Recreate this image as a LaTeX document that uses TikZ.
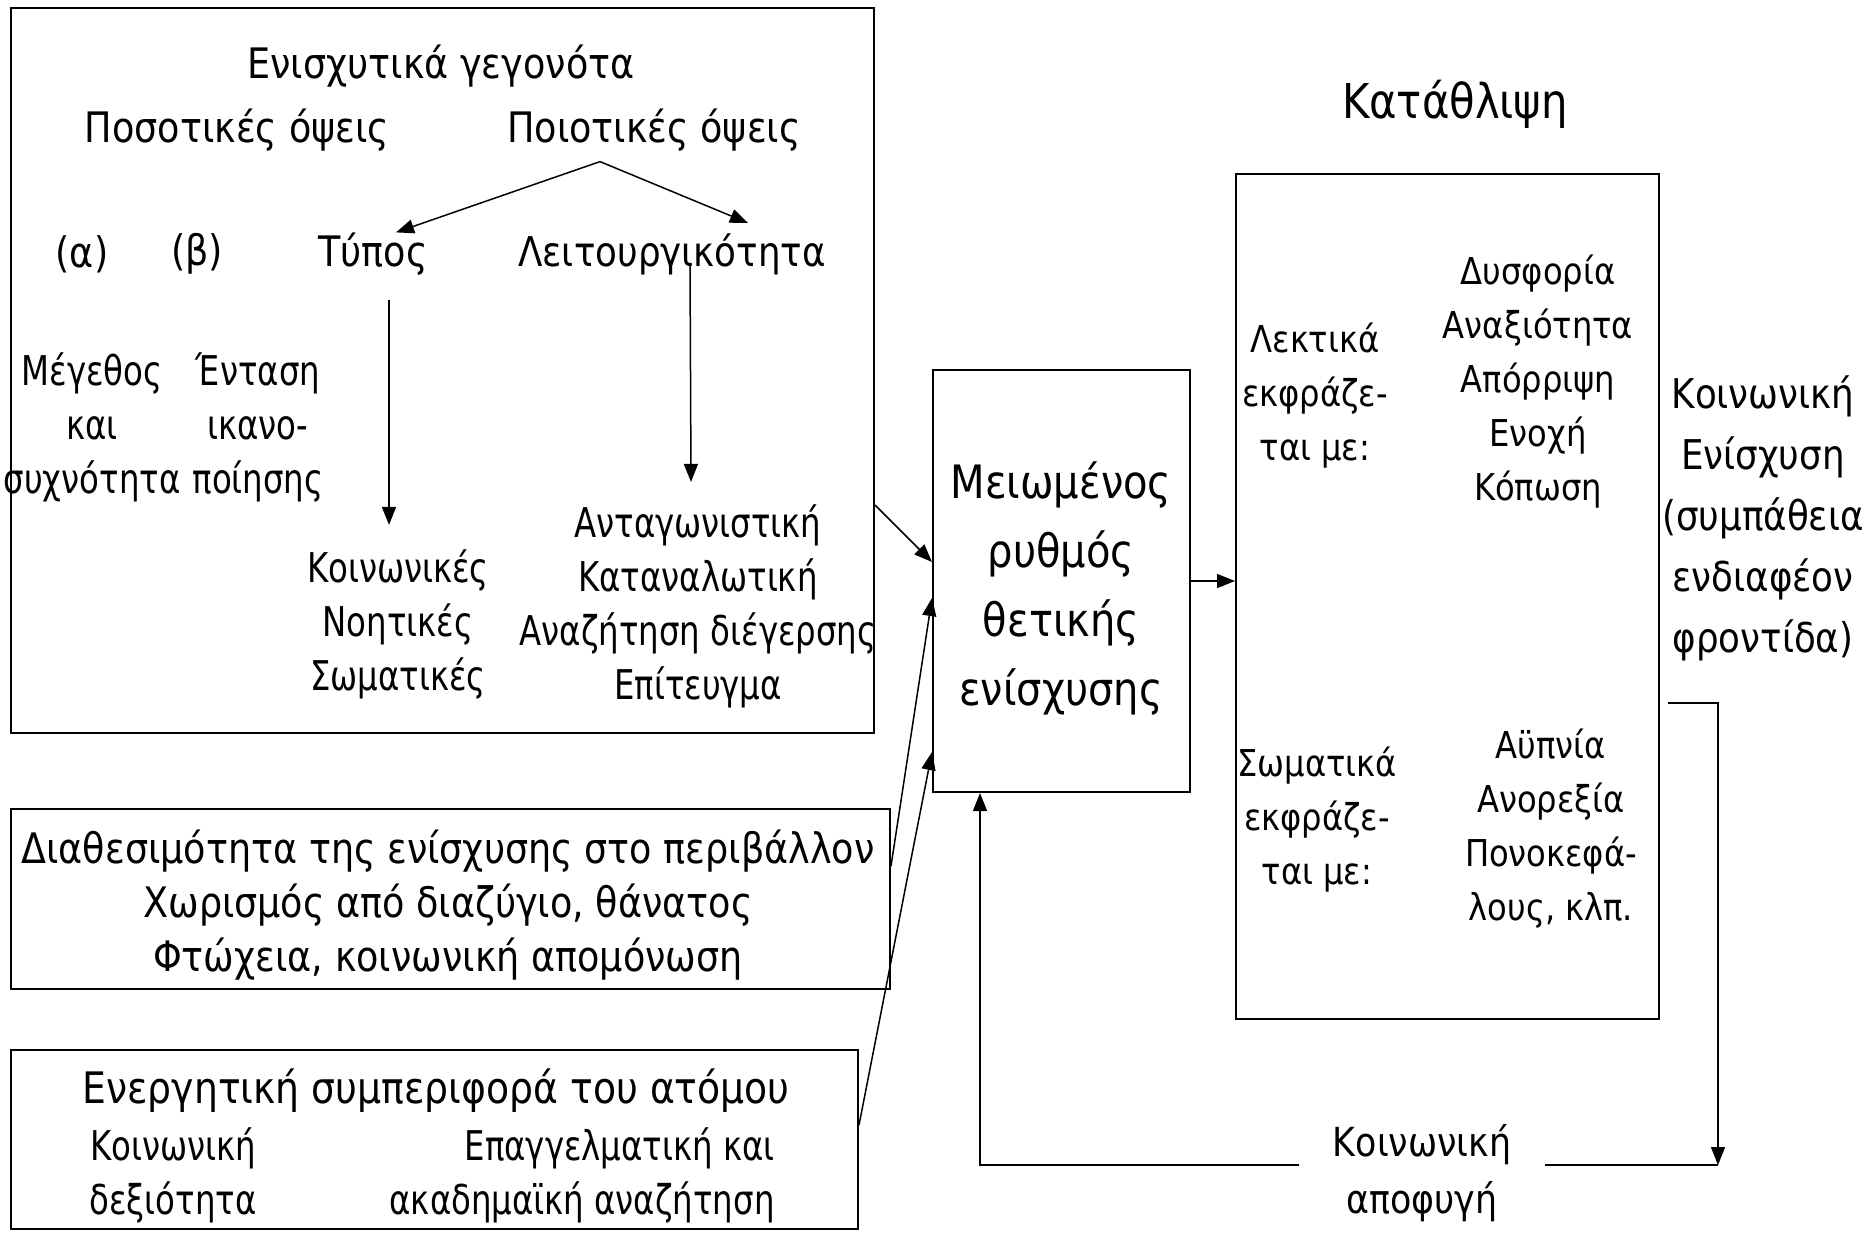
\documentclass[tikz,border=0pt]{standalone}
\usepackage{fontspec}
\setmainfont{DejaVu Sans}[FakeStretch=0.87]
\newfontfamily\narrowsans{DejaVu Sans}[FakeStretch=0.79]
\usetikzlibrary{arrows.meta,fit}

\tikzset{
  frame/.style={draw,line width=1pt,inner sep=0pt},
  lbl/.style={inner sep=0pt,align=center,font=\fontsize{21}{27}\selectfont},
  sublbl/.style={inner sep=0pt,align=center,font=\narrowsans\fontsize{20.5}{27}\selectfont},
  midlbl/.style={inner sep=0pt,align=center,font=\fontsize{23}{34.5}\selectfont},
  toplbl/.style={inner sep=0pt,font=\fontsize{24}{30}\selectfont},
  rlbl/.style={inner sep=0pt,align=center,font=\fontsize{18.5}{27}\selectfont},
  soclbl/.style={inner sep=0pt,align=center,font=\fontsize{20.5}{30.5}\selectfont},
  arr/.style={-{Triangle[length=9pt,width=7pt]},line width=0.75pt},
}

\begin{document}
\begin{tikzpicture}[x=0.5pt,y=-0.5pt]
\useasboundingbox (0,0) rectangle (1874,1232);

% frames
\node[frame,fit={(11,8) (874,733)}] (facts) {};
\node[frame,fit={(11,809) (890,989)}] (avail) {};
\node[frame,fit={(11,1050) (858,1229)}] (active) {};
\node[frame,fit={(933,370) (1190,792)}] (mid) {};
\node[frame,fit={(1236,174) (1659,1019)}] (dep) {};

% reinforcing events
\node[lbl] (title) at (441,66) {Ενισχυτικά γεγονότα};
\node[lbl] (quant) at (237,130) {Ποσοτικές όψεις};
\node[lbl] (qual) at (654,130) {Ποιοτικές όψεις};
\node[lbl] (alpha) at (82,254) {(α)};
\node[lbl] (beta) at (197,254) {(β)};
\node[lbl] (typos) at (373,254) {Τύπος};
\node[lbl,font=\fontsize{20.5}{27}\selectfont] (leit) at (672,254) {Λειτουργικότητα};
\node[sublbl] (size) at (92,427) {Μέγεθος\\και\\συχνότητα};
\node[sublbl] (intens) at (258,427) {Ένταση\\ικανο-\\ποίησης};
\node[sublbl] (kinds) at (398,624) {Κοινωνικές\\Νοητικές\\Σωματικές};
\node[sublbl] (funcs) at (698,606) {Ανταγωνιστική\\Καταναλωτική\\Αναζήτηση διέγερσης\\Επίτευγμα};

\draw[arr] ([xshift=-27pt,yshift=-5pt]qual.south) -- ([xshift=11.5pt]typos.north);
\draw[arr] ([xshift=-27pt,yshift=-5pt]qual.south) -- ([xshift=38pt,yshift=5pt]leit.north);
\draw[arr] ([xshift=8pt,yshift=-12pt]typos.south) -- ([xshift=-4.5pt,yshift=12pt]kinds.north);
\draw[arr] ([xshift=9pt,yshift=6pt]leit.south) -- ([xshift=-3.5pt,yshift=11pt]funcs.north);

% environment and behaviour
\node[lbl] (availtxt) at (448,905) {Διαθεσιμότητα της ενίσχυσης στο περιβάλλον\\Χωρισμός από διαζύγιο, θάνατος\\Φτώχεια, κοινωνική απομόνωση};
\node[lbl,font=\fontsize{21.7}{27}\selectfont] (acthead) at (436,1091) {Ενεργητική συμπεριφορά του ατόμου};
\node[sublbl] (skill) at (173,1175) {Κοινωνική\\δεξιότητα};
\node[sublbl,align=right,anchor=east] (career) at (775,1175) {Επαγγελματική και\\ακαδημαϊκή αναζήτηση};

% reduced rate
\node[midlbl] (midtxt) at (1061,588) {Μειωμένος\\ρυθμός\\θετικής\\ενίσχυσης};
\draw[arr] ([yshift=-67.25pt]facts.east) -- ([yshift=9.5pt]mid.west);
\draw[arr] ([yshift=16.5pt]avail.east) -- ([yshift=-8.5pt]mid.west);
\draw[arr] ([yshift=7.25pt]active.east) -- ([yshift=-85.5pt]mid.west);

% depression
\node[toplbl] (deptitle) at (1455,104) {Κατάθλιψη};
\node[rlbl] (verbal) at (1315,396) {Λεκτικά\\εκφράζε-\\ται με:};
\node[rlbl] (vsym) at (1538,382) {Δυσφορία\\Αναξιότητα\\Απόρριψη\\Ενοχή\\Κόπωση};
\node[rlbl] (somatic) at (1317,820) {Σωματικά\\εκφράζε-\\ται με:};
\node[rlbl] (ssym) at (1551,829) {Αϋπνία\\Ανορεξία\\Πονοκεφά-\\λους, κλπ.};
\draw[arr] (mid.east) -- (mid.east -| dep.west);

% social feedback
\node[soclbl] (socreinf) at (1763,518) {Κοινωνική\\Ενίσχυση\\(συμπάθεια\\ενδιαφέον\\φροντίδα)};
\coordinate (corner) at (1718,1165);
\draw[arr] ([xshift=4pt,yshift=-53.25pt]dep.east) -| (corner);
\draw[arr] (corner) -| ([xshift=-40.75pt]mid.south);
\node[soclbl,font=\fontsize{20}{28.5}\selectfont,fill=white,inner xsep=17pt] (avoid) at (1422,1173) {Κοινωνική\\αποφυγή};
\end{tikzpicture}
\end{document}
